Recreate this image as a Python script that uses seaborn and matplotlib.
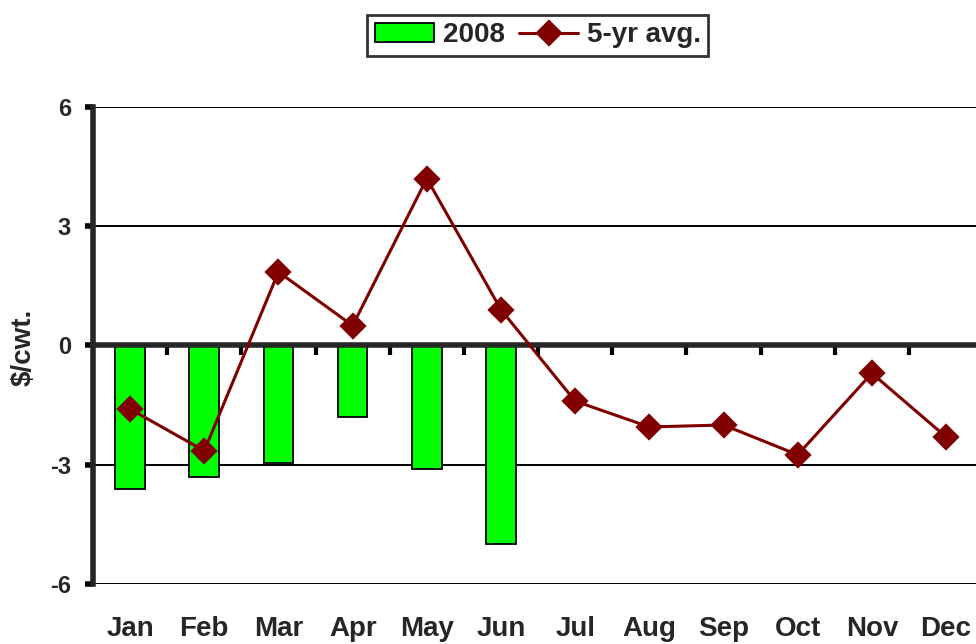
import pandas as pd
import numpy as np
import matplotlib.pyplot as plt
import seaborn as sns
from matplotlib.ticker import FixedLocator

# data
months = ["Jan", "Feb", "Mar", "Apr", "May", "Jun",
          "Jul", "Aug", "Sep", "Oct", "Nov", "Dec"]
bar_months = ["Jan", "Feb", "Mar", "Apr", "May", "Jun"]
vals_2008 = [-3.6, -3.3, -2.95, -1.8, -3.1, -5.0]
avg_5yr = [-1.6, -2.65, 1.85, 0.5, 4.2, 0.9, -1.4, -2.05, -2.0, -2.75, -0.7, -2.3]
y_ticks = [-6, -3, 0, 3, 6]

sns.set_style("white")
plt.rcParams["font.family"] = ["Liberation Sans", "DejaVu Sans"]
plt.rcParams["font.weight"] = "bold"

fig = plt.figure(figsize=(9.76, 6.44), dpi=100)
ax = fig.add_axes([0.0953, 0.0932, 0.912, 0.7407])

bars_df = pd.DataFrame({"Month": bar_months, "Value": vals_2008})
avg_df = pd.DataFrame({"Month": months, "Value": avg_5yr})

sns.barplot(data=bars_df, x="Month", y="Value", order=months, color="#00FF00",
            saturation=1, width=0.4, edgecolor="black", linewidth=1.3,
            label="2008", ax=ax, zorder=2)
sns.pointplot(data=avg_df, x="Month", y="Value", order=months, color="#800000",
              markers="D", markersize=12, linewidth=2.2, label="5-yr avg.",
              ax=ax, zorder=4)

handles, labels = ax.get_legend_handles_labels()
if ax.get_legend() is not None:
    ax.get_legend().remove()

ax.set_xlim(-0.5, 11.5)
ax.set_ylim(-6, 6)
ax.set_yticks(y_ticks)
ax.set_yticklabels([str(t) for t in y_ticks], fontsize=17, fontweight="bold")
ax.grid(axis="y", color="black", linewidth=1.4, zorder=0)
ax.set_axisbelow(True)

# zero axis line carries the category boundary ticks
ax.spines["top"].set_position(("data", 0))
ax.spines["top"].set_linewidth(4)
ax.spines["top"].set_zorder(3)
ax.spines["left"].set_linewidth(4)
ax.spines["right"].set_visible(False)
ax.spines["bottom"].set_visible(False)

ax.xaxis.set_minor_locator(FixedLocator(np.arange(0.5, 11.5, 1)))
ax.tick_params(axis="x", which="minor", top=True, bottom=False, direction="in",
               length=7, width=3, color="black")
ax.tick_params(axis="x", which="major", top=False, bottom=True, length=0,
               pad=23, labelsize=20)
for lab in ax.get_xticklabels():
    lab.set_fontweight("bold")
ax.tick_params(axis="y", left=True, direction="out", length=6, width=4,
               color="black", pad=10)

ax.set_xlabel("")
ax.set_ylabel("$/cwt.", fontsize=20, fontweight="bold")
ax.yaxis.set_label_coords(-0.063, 0.496)

order = [labels.index("2008"), labels.index("5-yr avg.")]
leg = fig.legend([handles[i] for i in order], [labels[i] for i in order],
                 loc="center", bbox_to_anchor=(0.551, 0.945),
                 ncol=2, frameon=True, fancybox=False, edgecolor="black",
                 prop={"size": 20, "weight": "bold"}, handlelength=2.15,
                 columnspacing=0.5, handletextpad=0.3, borderpad=0.27)
leg.get_frame().set_linewidth(2)

fig.savefig("out.png", dpi=100)
